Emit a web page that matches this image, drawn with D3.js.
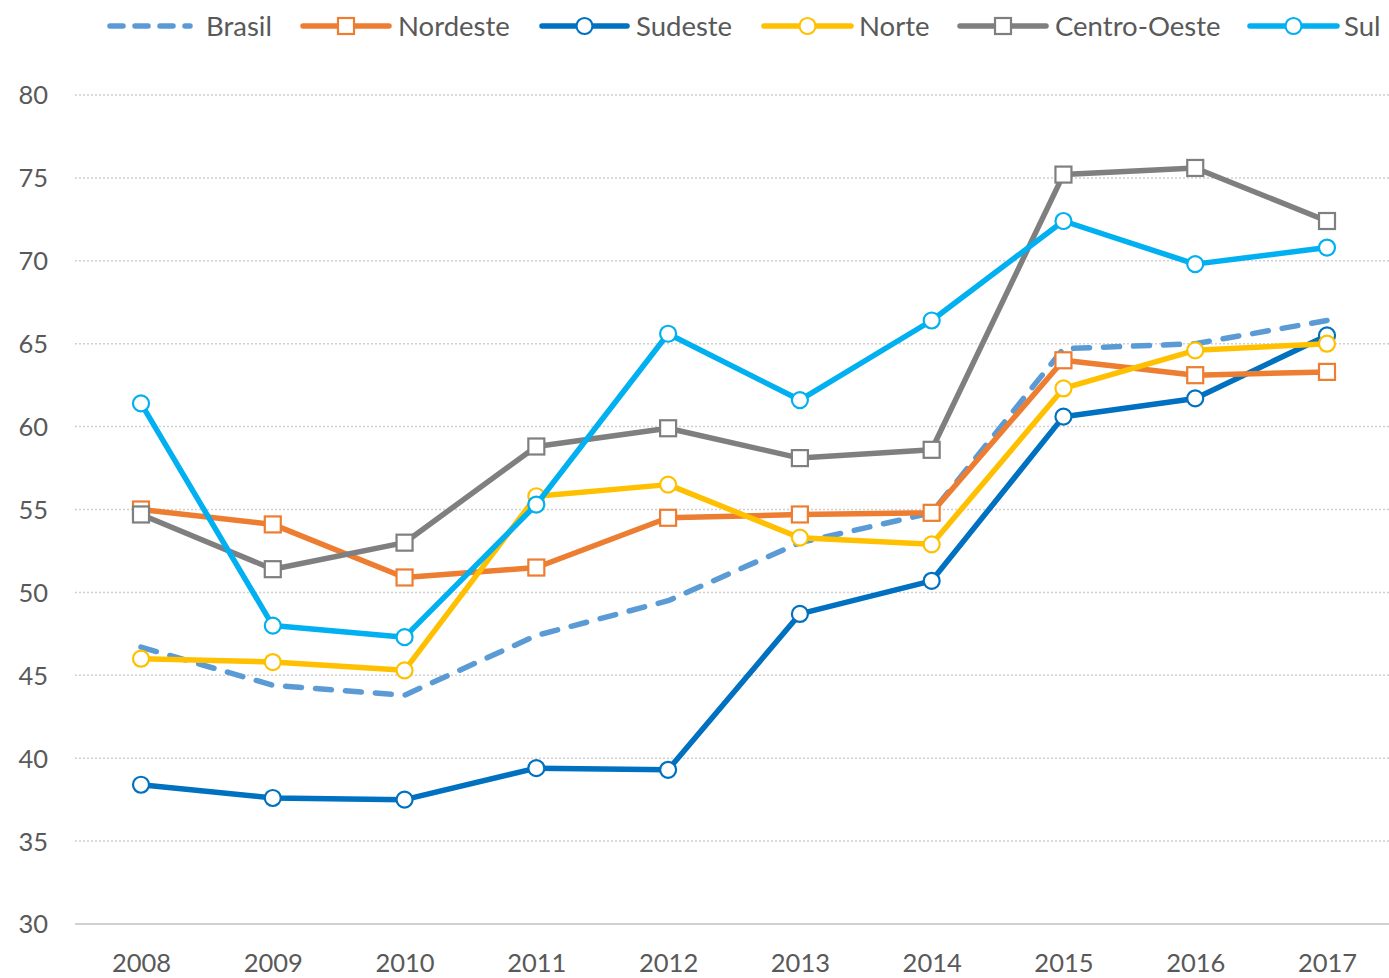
<!DOCTYPE html>
<html><head><meta charset="utf-8">
<script src="https://cdn.jsdelivr.net/npm/d3@7"></script>
<style>body{margin:0;background:#fff}svg{display:block}</style>
</head><body>
<svg id="c" width="1389" height="978"></svg>
<script>
const years = ["2008","2009","2010","2011","2012","2013","2014","2015","2016","2017"];
const yTicks = [30,35,40,45,50,55,60,65,70,75,80];
const brasil = [46.7,44.4,43.8,47.4,49.5,53.0,54.8,64.7,65.0,66.4];
const nordeste = [55.0,54.1,50.9,51.5,54.5,54.7,54.8,64.0,63.1,63.3];
const sudeste = [38.4,37.6,37.5,39.4,39.3,48.7,50.7,60.6,61.7,65.5];
const norte = [46.0,45.8,45.3,55.8,56.5,53.3,52.9,62.3,64.6,65.0];
const centroOeste = [54.7,51.4,53.0,58.8,59.9,58.1,58.6,75.2,75.6,72.4];
const sul = [61.4,48.0,47.3,55.3,65.6,61.6,66.4,72.4,69.8,70.8];

const series = [
  {name:"Brasil", values:brasil, color:"#5B9BD5", marker:null, dashed:true},
  {name:"Nordeste", values:nordeste, color:"#ED7D31", marker:"square"},
  {name:"Sudeste", values:sudeste, color:"#0070C0", marker:"circle"},
  {name:"Norte", values:norte, color:"#FFC000", marker:"circle"},
  {name:"Centro-Oeste", values:centroOeste, color:"#7F7F7F", marker:"square"},
  {name:"Sul", values:sul, color:"#00B0F0", marker:"circle"}
];
const drawOrder = ["Brasil","Sudeste","Nordeste","Norte","Centro-Oeste","Sul"];

const svg = d3.select("#c");
const font = "Lato, 'Open Sans', sans-serif";
const x = d3.scalePoint().domain(years).range([141,1327]);
const y = d3.scaleLinear().domain([30,80]).range([924,95]);

// gridlines
svg.append("g").selectAll("line").data(yTicks.filter(t=>t>30)).join("line")
  .attr("x1",75).attr("x2",1389).attr("y1",d=>y(d)).attr("y2",d=>y(d))
  .attr("stroke","#d0d0d0").attr("stroke-width",1.5).attr("stroke-dasharray","2,2");

// y axis
const yAxis = svg.append("g").attr("transform","translate(56,0)")
  .call(d3.axisLeft(y).tickValues(yTicks).tickSize(0).tickPadding(8));
yAxis.select(".domain").remove();
yAxis.selectAll("text").attr("font-family",font).attr("font-size",25.5).attr("fill","#595959").attr("dy","0.35em");

// x axis
const xAxis = svg.append("g").attr("transform","translate(0,924)")
  .call(d3.axisBottom(x).tickSize(0).tickPadding(30));
xAxis.select(".domain").remove();
xAxis.selectAll("text").attr("font-family",font).attr("font-size",25.5).attr("fill","#595959");
svg.append("line").attr("x1",75).attr("x2",1389).attr("y1",y(30)).attr("y2",y(30))
  .attr("stroke","#d0d0d0").attr("stroke-width",2);

const line = d3.line().x((d,i)=>x(years[i])).y(d=>y(d));

function drawMarker(g, type, cx, cy, color){
  if(type==="circle"){
    g.append("circle").attr("cx",cx).attr("cy",cy).attr("r",8)
      .attr("fill","#fff").attr("stroke",color).attr("stroke-width",2.2);
  } else if(type==="square"){
    g.append("rect").attr("x",cx-8).attr("y",cy-8).attr("width",16).attr("height",16)
      .attr("fill","#fff").attr("stroke",color).attr("stroke-width",2.2);
  }
}

drawOrder.forEach(n=>{
  const s = series.find(d=>d.name===n);
  const g = svg.append("g");
  g.append("path").datum(s.values).attr("d",line).attr("fill","none")
    .attr("stroke",s.color).attr("stroke-width",5.5)
    .attr("stroke-linejoin","round").attr("stroke-linecap","round")
    .attr("stroke-dasharray",s.dashed?"16,14":null);
  if(s.marker) s.values.forEach((v,i)=>drawMarker(g,s.marker,x(years[i]),y(v),s.color));
});

// legend
const legendPos = [
  {name:"Brasil", x1:110, x2:190, tx:206},
  {name:"Nordeste", x1:303, x2:389, tx:398},
  {name:"Sudeste", x1:542, x2:627, tx:636},
  {name:"Norte", x1:764, x2:851, tx:859},
  {name:"Centro-Oeste", x1:960, x2:1046, tx:1055},
  {name:"Sul", x1:1250, x2:1337, tx:1344}
];
const lg = svg.append("g");
legendPos.forEach(p=>{
  const s = series.find(d=>d.name===p.name);
  const ly = 26;
  lg.append("line").attr("x1",p.x1).attr("x2",p.x2).attr("y1",ly).attr("y2",ly)
    .attr("stroke",s.color).attr("stroke-width",5.5).attr("stroke-linecap","round")
    .attr("stroke-dasharray",s.dashed?"13,12":null);
  if(s.marker) drawMarker(lg,s.marker,(p.x1+p.x2)/2,ly,s.color);
  lg.append("text").attr("x",p.tx).attr("y",ly).attr("dy","0.35em")
    .attr("font-family",font).attr("font-size",27.5).attr("fill","#595959").text(s.name);
});
</script>
</body></html>
